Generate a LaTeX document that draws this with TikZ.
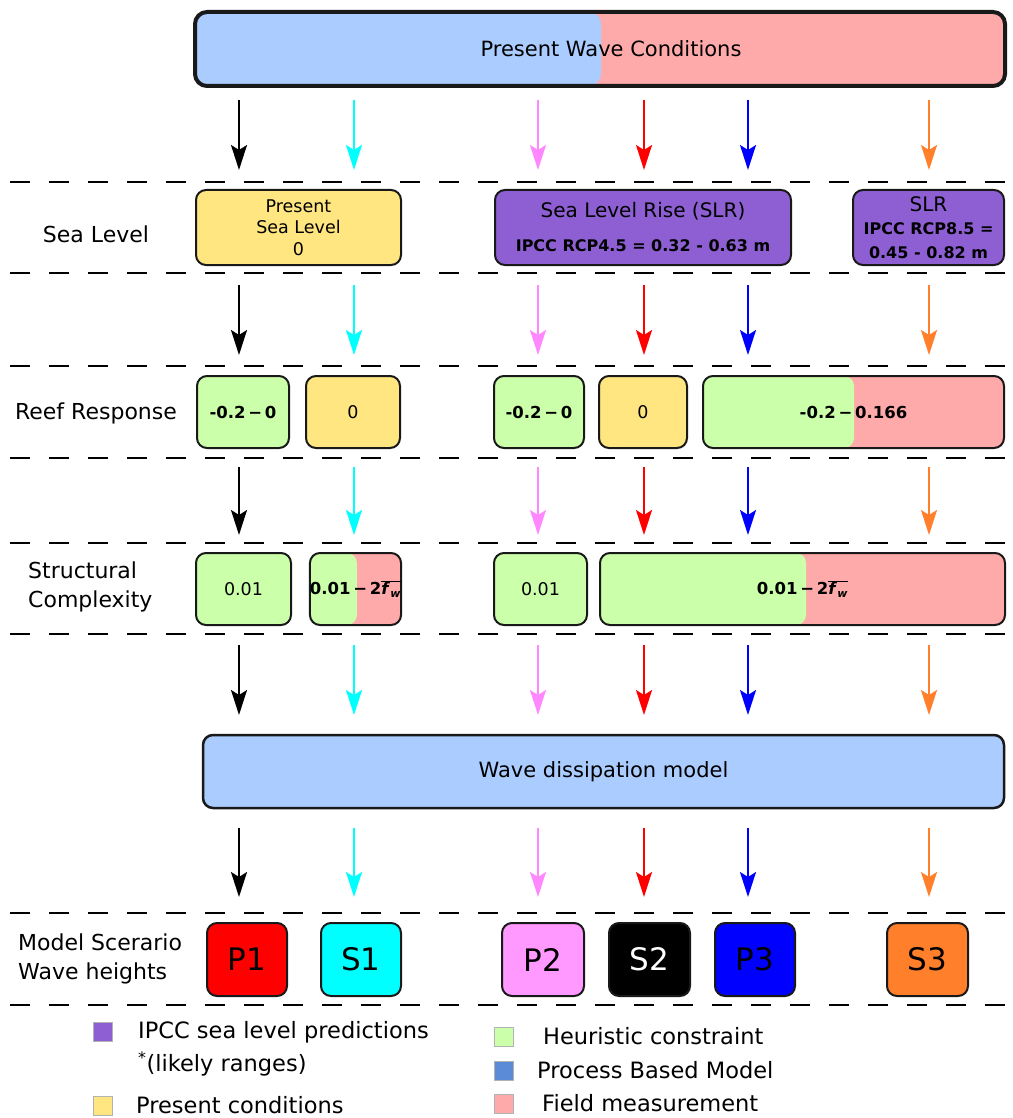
\documentclass[tikz,border=0pt]{standalone}
\usepackage{fontspec}
\setmainfont{DejaVu Sans}
\usetikzlibrary{arrows.meta,calc}
\definecolor{cblue}{HTML}{AACCFF}
\definecolor{cpink}{HTML}{FFAAAA}
\definecolor{cyel}{HTML}{FFE680}
\definecolor{cpurp}{HTML}{8D5FD3}
\definecolor{cgreen}{HTML}{CCFFAA}
\definecolor{cviol}{HTML}{FF99FF}
\definecolor{aviol}{HTML}{FF88FF}
\definecolor{corange}{HTML}{FF7F2A}
\definecolor{lblue}{HTML}{5B8AD6}
\definecolor{ccyan}{HTML}{00FFFF}
\definecolor{cred}{HTML}{FF0000}
\definecolor{cdblue}{HTML}{0000FF}
\newcommand{\fwbar}{$\overline{\mbox{\textbf{\textit{f}}}_{\mbox{\fontsize{11}{11}\selectfont\textbf{\textit{w}}}}}$}
\begin{document}
\begin{tikzpicture}[x=1pt,y=-1pt,
 box/.style={draw=black!90, line width=2pt, rounded corners=10pt, inner sep=0pt, align=center, font=\fontsize{17.5}{21.5}\selectfont},
 twocol/.style n args={3}{fill=#2, path picture={\fill[#1] (path picture bounding box.south west) rectangle ($(path picture bounding box.north west)+(#3,0)$);}},
 sidelab/.style={font=\fontsize{22}{29}\selectfont, align=left, inner sep=0pt},
 dashline/.style={line width=2.5pt, dash pattern=on 20pt off 19pt},
 arr/.style={line width=2pt, -{Stealth[length=25pt,width=16pt,inset=5pt]}},
 legsq/.style={draw=black!30, line width=0.5pt, minimum size=19pt, inner sep=0pt},
 legtxt/.style={font=\fontsize{22.5}{27}\selectfont, anchor=west, inner sep=0pt},
 bsm/.style={font=\fontsize{16.5}{20}\selectfont\bfseries},
 pbox/.style={box, minimum height=73pt, font=\fontsize{31}{35}\selectfont},
]
\useasboundingbox (0,0) rectangle (1012,1118);

% top box
\node[box, line width=4pt, rounded corners=12pt, minimum width=810pt, minimum height=74pt,
  twocol={cblue}{cpink}{406}, font=\fontsize{21}{25}\selectfont] (pwc) at (600,49) {\hspace*{22pt}Present Wave Conditions};

% dashed separators
\foreach \y in {182,273,366,458,543,634,913,1005}
  \draw[dashline] (10,\y) -- (1005,\y);

% side labels
\node[sidelab, align=center] (lsea) at (96,234) {Sea Level};
\node[sidelab, align=center] (lreef) at (96,413) {Reef Response};
\node[sidelab, anchor=west] (lstruct) at (28,587) {Structural\\Complexity};
\node[sidelab, anchor=west] (lmodel) at (18,959) {Model Scerario\\Wave heights};

% sea level row
\node[box, fill=cyel, minimum width=205pt, minimum height=75pt] (psl) at (298.5,227.5) {Present\\Sea Level\\0};
\node[box, fill=cpurp, minimum width=296pt, minimum height=75pt, font=\fontsize{20}{34}\selectfont] (slr1) at (643,227.5)
  {Sea Level Rise (SLR)\\{\fontsize{16}{20}\selectfont\bfseries IPCC RCP4.5 = 0.32 - 0.63 m}};
\node[box, fill=cpurp, minimum width=151pt, minimum height=75pt, font=\fontsize{20}{24}\selectfont] (slr2) at (928.5,227.5)
  {\raisebox{-3pt}{SLR}\\[2pt]{\fontsize{16}{20}\selectfont\bfseries IPCC RCP8.5 =}\\{\fontsize{16}{20}\selectfont\bfseries 0.45 - 0.82 m}};

% reef response row
\node[box, fill=cgreen, minimum width=92pt, minimum height=72pt, bsm] (r1) at (243,412) {-0.2\,−\,0};
\node[box, fill=cyel, minimum width=94pt, minimum height=72pt] (r2) at (353,412) {0};
\node[box, fill=cgreen, minimum width=90pt, minimum height=72pt, bsm] (r3) at (539,412) {-0.2\,−\,0};
\node[box, fill=cyel, minimum width=88pt, minimum height=72pt] (r4) at (643,412) {0};
\node[box, twocol={cgreen}{cpink}{151}, minimum width=301pt, minimum height=72pt, bsm] (r5) at (853.5,412) {-0.2\,−\,0.166};

% structural complexity row
\node[box, fill=cgreen, minimum width=95pt, minimum height=72pt] (s1) at (243.5,589) {0.01};
\node[box, twocol={cgreen}{cpink}{47}, minimum width=91pt, minimum height=72pt, bsm] (s2) at (355.5,589) {0.01\,−\,2\fwbar};
\node[box, fill=cgreen, minimum width=93pt, minimum height=72pt] (s3) at (540.5,589) {0.01};
\node[box, twocol={cgreen}{cpink}{206}, minimum width=405pt, minimum height=72pt, bsm] (s4) at (802.5,589) {0.01\,−\,2\fwbar};

% wave dissipation model
\node[box, fill=cblue, line width=2.5pt, minimum width=801pt, minimum height=73pt, font=\fontsize{21}{25}\selectfont] (wdm) at (603.5,771.5) {Wave dissipation model};

% scenario boxes
\node[pbox, fill=cred, minimum width=80pt] (p1) at (247,959.5) {P1};
\node[pbox, fill=ccyan, minimum width=80pt] (sc1) at (361,959.5) {S1};
\node[pbox, fill=cviol, minimum width=82pt] (p2) at (543,959.5) {P2};
\node[pbox, fill=black, text=white, minimum width=81pt] (sc2) at (649.5,959.5) {S2};
\node[pbox, fill=cdblue, minimum width=80pt] (p3) at (755,959.5) {P3};
\node[pbox, fill=corange, minimum width=81pt] (sc3) at (927.5,959.5) {S3};

% arrows
\foreach \c/\x in {black/239, ccyan/354, aviol/538, cred/644, cdblue/748, corange/929} {
  \foreach \r/\ya/\yb in {1/100/170, 2/285/355, 3/467/535, 4/645/715, 5/828/897} {
    \coordinate (s\r-\x) at (\x,\ya);
    \coordinate (e\r-\x) at (\x,\yb);
    \draw[arr, color=\c] (s\r-\x) -- (e\r-\x);
  }
}

% legend
\node[legsq, fill=cpurp] (lg1) at (103,1032) {};
\node[legtxt] (lt1) at (138,1032) {IPCC sea level predictions};
\node[legtxt] (lt1b) at (138,1064) {\textsuperscript{*}(likely ranges)};
\node[legsq, fill=cyel] (lg2) at (103,1106) {};
\node[legtxt] (lt2) at (136,1105) {Present conditions};
\node[legsq, fill=cgreen] (lg3) at (504,1037) {};
\node[legtxt] (lt3) at (543,1036) {Heuristic constraint};
\node[legsq, fill=lblue] (lg4) at (504,1071) {};
\node[legtxt] (lt4) at (537,1070) {Process Based Model};
\node[legsq, fill=cpink] (lg5) at (504,1104) {};
\node[legtxt] (lt5) at (542,1103) {Field measurement};
\end{tikzpicture}
\end{document}
